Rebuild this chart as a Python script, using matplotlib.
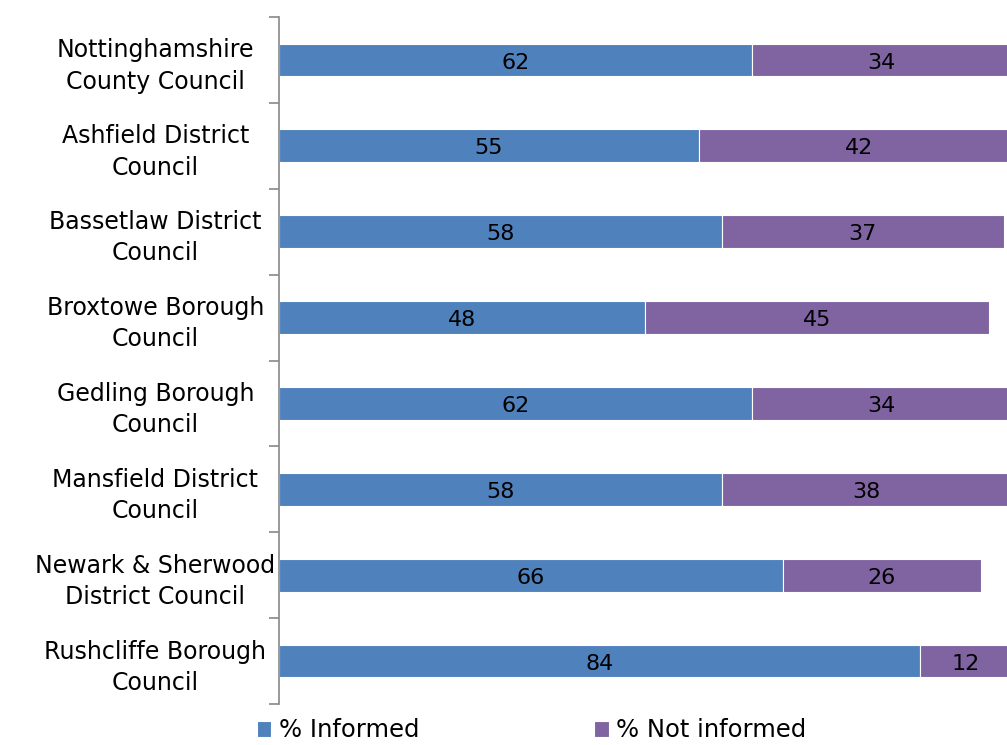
import matplotlib as mpl
mpl.use('Agg')
import matplotlib.pyplot as plt
import numpy as np

plt.rcParams['font.family'] = ['DejaVu Sans']

councils = ['Nottinghamshire\nCounty Council', 'Ashfield District\nCouncil',
            'Bassetlaw District\nCouncil', 'Broxtowe Borough\nCouncil',
            'Gedling Borough\nCouncil', 'Mansfield District\nCouncil',
            'Newark & Sherwood\nDistrict Council', 'Rushcliffe Borough\nCouncil']
informed = [62, 55, 58, 48, 62, 58, 66, 84]
not_informed = [34, 42, 37, 45, 34, 38, 26, 12]

blue = '#4F81BD'
purple = '#8064A2'

fig = plt.figure(figsize=(10.07, 7.45), dpi=100)
ax = fig.add_axes([279/1007, 1 - 704/745, 1 - 279/1007, 687/745])

y = np.arange(len(councils))
h = 0.38
b1 = ax.barh(y, informed, height=h, color=blue, edgecolor='white', linewidth=0.8, label='% Informed')
b2 = ax.barh(y, not_informed, left=informed, height=h, color=purple, edgecolor='white', linewidth=0.8, label='% Not informed')

for i in range(len(councils)):
    ax.text(informed[i] / 2, y[i] + 0.03, str(informed[i]), ha='center', va='center', fontsize=16, color='black')
    ax.text(informed[i] + not_informed[i] / 2, y[i] + 0.03, str(not_informed[i]), ha='center', va='center', fontsize=16, color='black')

ax.set_xlim(0, 95.4)
ax.set_ylim(len(councils) - 0.5, -0.5)
ax.set_yticks(y)
ax.set_yticklabels(councils, fontsize=17, ha='center', linespacing=1.38)
ax.tick_params(axis='y', which='major', length=0, pad=89)
ax.set_yticks(np.arange(-0.5, len(councils)), minor=True)
ax.tick_params(axis='y', which='minor', length=7, color='#888888', width=1.2)
ax.set_xticks([])

for s in ['top', 'right', 'bottom']:
    ax.spines[s].set_visible(False)
ax.spines['left'].set_color('#888888')
ax.spines['left'].set_linewidth(1.2)

fig.legend(handles=[b1, b2], loc='lower left', bbox_to_anchor=(235/1007, -0.026), ncol=2,
           frameon=False, fontsize=17.5, handlelength=0.6, handleheight=0.6,
           handletextpad=0.3, columnspacing=7.2)

plt.savefig('out.png')
